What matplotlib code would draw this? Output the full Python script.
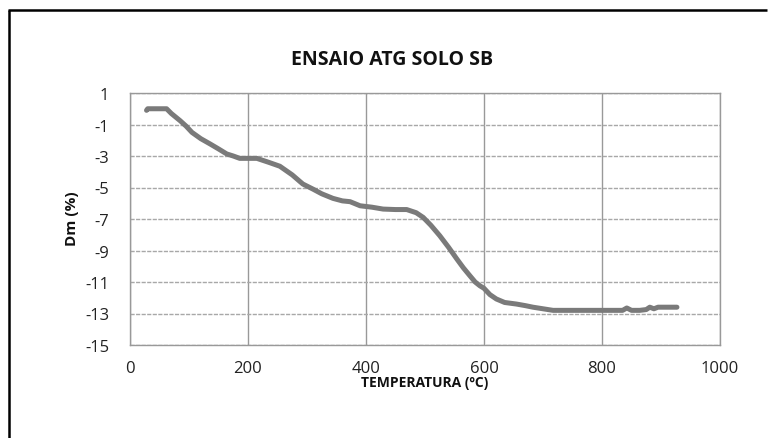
import matplotlib
matplotlib.use("Agg")
import matplotlib.pyplot as plt
from matplotlib.lines import Line2D

title = "ENSAIO ATG SOLO SB"
xlabel = "TEMPERATURA (ºC)"
ylabel = "Dm (%)"
xticks = [0, 200, 400, 600, 800, 1000]
yticks = [1, -1, -3, -5, -7, -9, -11, -13, -15]

temperature = [28, 30, 62, 70, 85, 95, 105, 120, 136, 150, 164, 175, 186, 200, 215, 235,
               254, 275, 293, 310, 325, 344, 360, 373, 390, 410, 429, 450, 469, 485, 497,
               510, 525, 540, 554, 565, 576, 585, 593, 600, 610, 621, 635, 655, 670, 683,
               700, 717, 760, 800, 835, 842, 850, 864, 875, 881, 888, 895, 904, 927]
dm = [-0.1, 0, 0, -0.3, -0.76, -1.1, -1.5, -1.9, -2.24, -2.55, -2.87, -3.0, -3.15, -3.15,
      -3.15, -3.4, -3.65, -4.2, -4.78, -5.1, -5.4, -5.69, -5.85, -5.9, -6.16, -6.25, -6.37,
      -6.4, -6.4, -6.6, -6.9, -7.4, -8.06, -8.8, -9.54, -10.1, -10.6, -11.0, -11.24, -11.4,
      -11.8, -12.08, -12.3, -12.4, -12.5, -12.6, -12.7, -12.8, -12.8, -12.8, -12.8, -12.65,
      -12.8, -12.8, -12.75, -12.6, -12.7, -12.6, -12.6, -12.6]

plt.rcParams['font.family'] = ['Open Sans', 'DejaVu Sans']

fig = plt.figure(figsize=(7.71, 4.39), dpi=100)
fig.patch.set_facecolor('white')
fig.patch.set_edgecolor('white')
fig.patch.set_linewidth(0)

# outer black frame: only left and top edges are visible in the reference
fx = 8.5 / 771
fy = 1 - 10.5 / 439
fig.add_artist(Line2D([fx, fx], [0, fy], transform=fig.transFigure,
                      color='black', linewidth=1.8, solid_capstyle='butt'))
fig.add_artist(Line2D([fx - 0.9 / 771, 0.995], [fy, fy], transform=fig.transFigure,
                      color='black', linewidth=1.8, solid_capstyle='butt'))

ax = fig.add_axes([130 / 771, 1 - 346 / 439, 590 / 771, 252 / 439])
ax.plot(temperature, dm, color='#7a7a7a', linewidth=3.6, solid_capstyle='round',
        solid_joinstyle='round')

ax.set_xlim(0, 1000)
ax.set_ylim(-15, 1)
ax.set_xticks(xticks)
ax.set_yticks(yticks)
ax.set_xticklabels([str(v) for v in xticks])
ax.set_yticklabels([str(v) for v in yticks])
ax.tick_params(length=0, labelsize=12, colors='#222222')
ax.tick_params(axis='x', pad=11)
ax.tick_params(axis='y', pad=15)

ax.grid(True, axis='y', color='#a8a8a8', linewidth=1.0, linestyle=(0, (3, 1)))
ax.grid(True, axis='x', color='#999999', linewidth=1.0)
ax.set_axisbelow(True)
for s in ax.spines.values():
    s.set_color('#999999')
    s.set_linewidth(1.0)

fig.text(392 / 771, 1 - 60 / 439, title, ha='center', va='center',
         fontsize=14, fontweight='bold', color='#111111')
fig.text(425 / 771, 1 - 383 / 439, xlabel, ha='center', va='center',
         fontsize=10, fontweight='bold', color='#111111')
fig.text(72 / 771, 1 - 219 / 439, ylabel, ha='center', va='center', rotation=90,
         fontsize=11, fontweight='bold', color='#111111')

fig.savefig('out.png', dpi=100)
